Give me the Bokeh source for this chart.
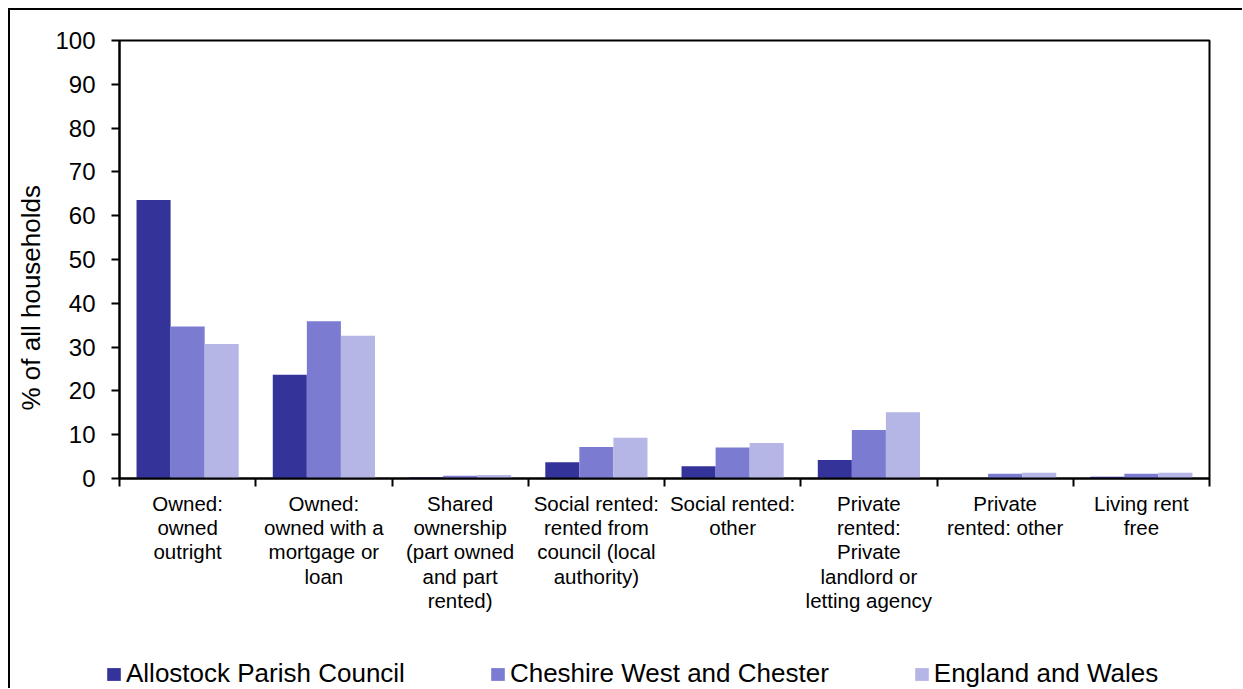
from bokeh.plotting import figure
from bokeh.layouts import column
from bokeh.models import (ColumnDataSource, Range1d, FixedTicker, Legend, LegendItem,
                          Title, InlineStyleSheet)
from bokeh.embed import file_html
from bokeh.resources import INLINE

# ---------------- data ----------------
categories = [
    "Owned: owned outright",
    "Owned: owned with a mortgage or loan",
    "Shared ownership (part owned and part rented)",
    "Social rented: rented from council (local authority)",
    "Social rented: other",
    "Private rented: Private landlord or letting agency",
    "Private rented: other",
    "Living rent free",
]
tick_labels = [
    "Owned:\nowned\noutright",
    "Owned:\nowned with a\nmortgage or\nloan",
    "Shared\nownership\n(part owned\nand part\nrented)",
    "Social rented:\nrented from\ncouncil (local\nauthority)",
    "Social rented:\nother",
    "Private\nrented:\nPrivate\nlandlord or\nletting agency",
    "Private\nrented: other",
    "Living rent\nfree",
]
series_names = ["Allostock Parish Council", "Cheshire West and Chester", "England and Wales"]
allostock = [63.6, 23.7, 0.3, 3.7, 2.8, 4.2, 0.0, 0.4]
cheshire_west = [34.7, 35.9, 0.6, 7.2, 7.1, 11.1, 1.1, 1.1]
england_wales = [30.7, 32.6, 0.8, 9.3, 8.1, 15.1, 1.3, 1.3]
series_values = [allostock, cheshire_west, england_wales]
colors = ["#333399", "#7B7BD2", "#B5B5E6"]
y_ticks = [0, 10, 20, 30, 40, 50, 60, 70, 80, 90, 100]
y_label = "% of all households"

FONT = "Liberation Sans"
W = 1232

# ---------------- main chart ----------------
n = len(categories)
p = figure(
    width=W, height=640,
    x_range=Range1d(0, n), y_range=Range1d(0, 100),
    output_backend="svg", toolbar_location=None,
    min_border_left=106, min_border_right=33, min_border_top=30, min_border_bottom=172,
)
p.background_fill_color = "white"
p.border_fill_color = "white"
p.outline_line_color = "black"
p.outline_line_width = 2
p.xgrid.visible = False
p.ygrid.visible = False

offsets = [-0.25, 0.0, 0.25]
for name, vals, col, off in zip(series_names, series_values, colors, offsets):
    src = ColumnDataSource(dict(x=[i + 0.5 + off for i in range(n)], top=vals, cat=categories))
    p.vbar(x="x", top="top", bottom=0, width=0.25, source=src,
           fill_color=col, line_color=None)

# x axis: labels at centres, ticks at boundaries
xa = p.xaxis[0]
xa.ticker = FixedTicker(ticks=[i + 0.5 for i in range(n)], minor_ticks=list(range(n + 1)))
xa.major_label_overrides = {i + 0.5: lab for i, lab in enumerate(tick_labels)}
xa.major_tick_out = 0
xa.major_tick_in = 0
xa.minor_tick_out = 8
xa.minor_tick_in = 0
xa.minor_tick_line_color = "black"
xa.minor_tick_line_width = 2
xa.axis_line_color = "black"
xa.axis_line_width = 2
xa.major_label_text_font = FONT
xa.major_label_text_font_size = "20.5px"
xa.major_label_text_line_height = 1.06
xa.major_label_text_color = "black"
xa.major_label_standoff = 5

ya = p.yaxis[0]
ya.ticker = FixedTicker(ticks=y_ticks)
ya.minor_tick_line_color = None
ya.major_tick_out = 8
ya.major_tick_in = 0
ya.major_tick_line_color = "black"
ya.major_tick_line_width = 2
ya.axis_line_color = "black"
ya.axis_line_width = 2
ya.major_label_text_font = FONT
ya.major_label_text_font_size = "24px"
ya.major_label_text_color = "black"
ya.major_label_standoff = 16

p.add_layout(Title(text=y_label, align="left", offset=68, standoff=10, vertical_align="top",
                   text_font=FONT, text_font_size="26px", text_font_style="normal",
                   text_color="black"), "left")

# ---------------- legend strip ----------------
q = figure(
    width=W, height=38,
    x_range=Range1d(0, 1), y_range=Range1d(0, 1),
    x_axis_type=None, y_axis_type=None,
    output_backend="svg", toolbar_location=None,
    min_border_left=0, min_border_right=0, min_border_top=0, min_border_bottom=0,
)
q.frame_align = False
q.outline_line_color = None
q.xgrid.visible = False
q.ygrid.visible = False
q.background_fill_color = "white"
q.border_fill_color = "white"

keys = []
for name, col in zip(series_names, colors):
    # zero-height proxy bar: only used as the legend key
    r = q.vbar(x=[0], top=[0], bottom=0, width=0.25, fill_color=col, line_color=None)
    keys.append(LegendItem(label=name, renderers=[r]))

legend = Legend(
    items=keys, orientation="horizontal", location=(95, -1),
    spacing=84, glyph_width=17, glyph_height=16, label_standoff=4,
    label_text_font=FONT, label_text_font_size="26px", label_text_color="black",
    padding=0, margin=0, border_line_color=None, background_fill_alpha=0,
)
q.add_layout(legend, "center")

root = column(p, q, spacing=0, margin=(8, 0, 0, 8),
              stylesheets=[InlineStyleSheet(css=":host { border-left: 2px solid #000; border-top: 2px solid #000; }")])

open("out.html", "w").write(file_html(root, INLINE))
